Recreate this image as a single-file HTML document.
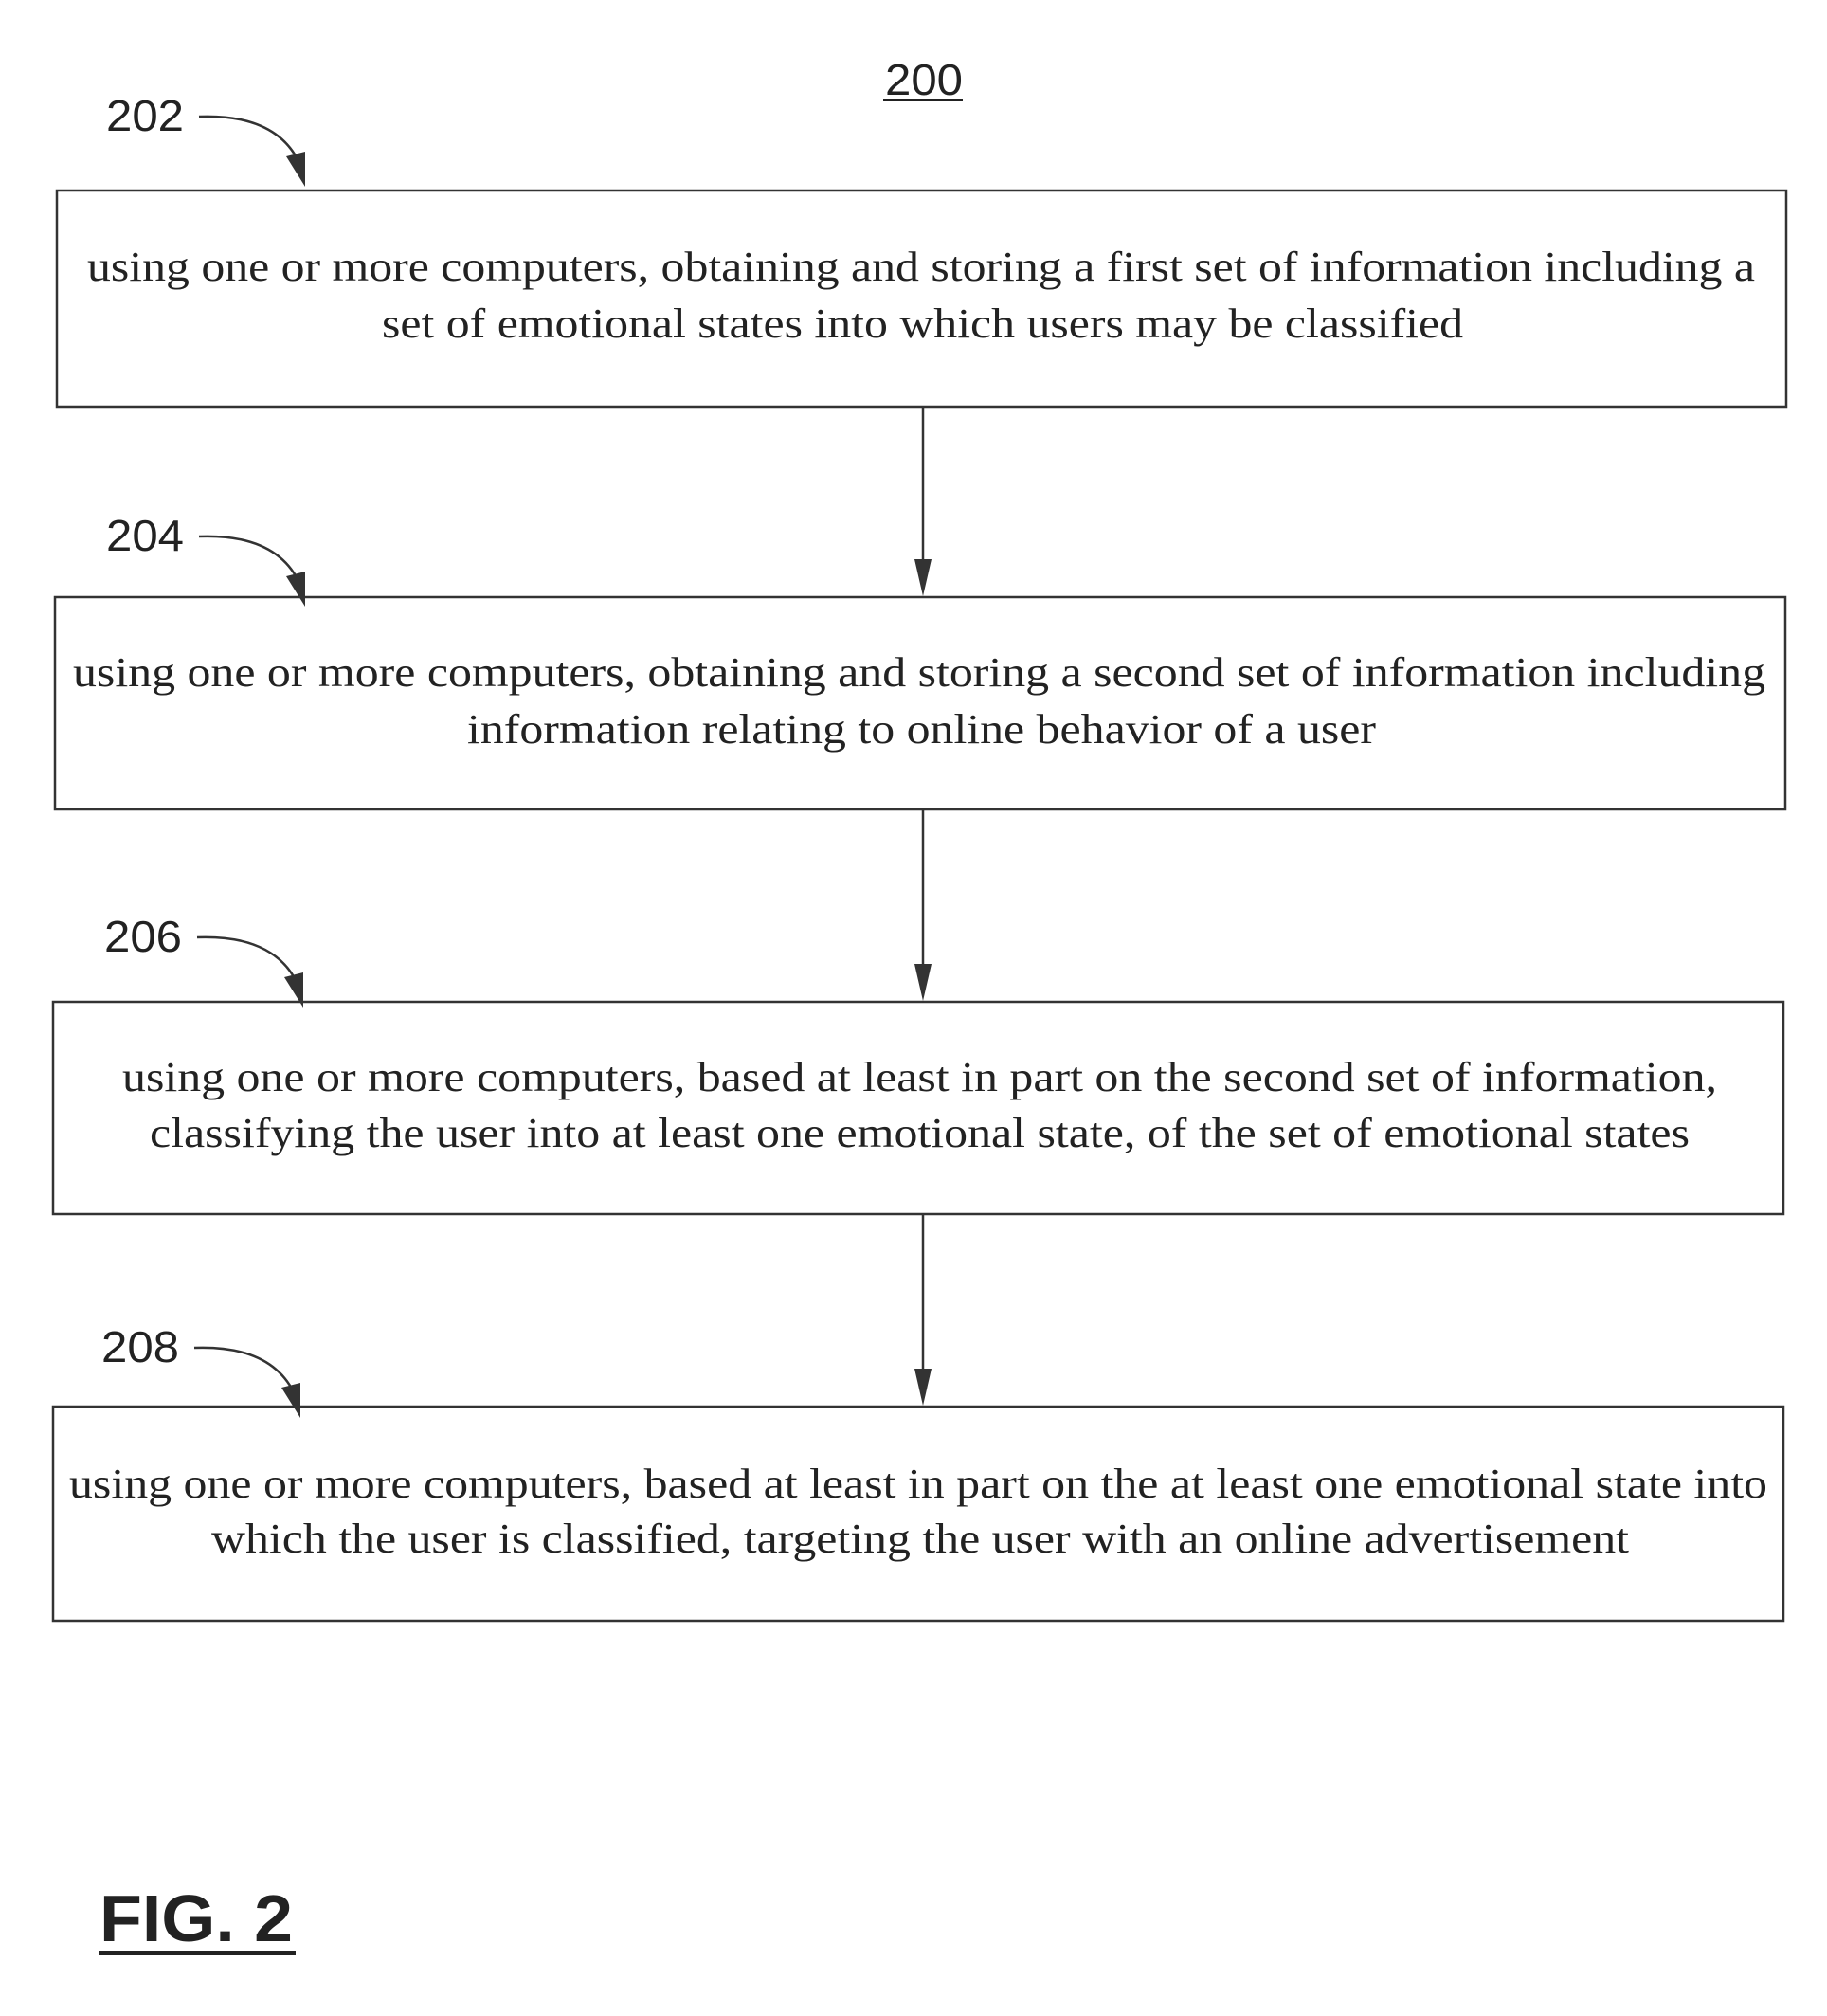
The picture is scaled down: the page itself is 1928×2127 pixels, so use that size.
<!DOCTYPE html>
<html><head><meta charset="utf-8"><style>html,body{margin:0;padding:0;background:#fff}</style></head>
<body>
<svg width="1928" height="2122" viewBox="0 0 1928 2122" xmlns="http://www.w3.org/2000/svg">
<g fill="none" stroke="#333" stroke-width="2.5">
<rect x="60" y="201" width="1825" height="228"/>
<rect x="58" y="630" width="1826" height="224"/>
<rect x="56" y="1057" width="1826" height="224"/>
<rect x="56" y="1484" width="1826" height="226"/>
<line x1="974" y1="429" x2="974" y2="600"/>
<line x1="974" y1="854" x2="974" y2="1027"/>
<line x1="974" y1="1281" x2="974" y2="1454"/>
<path d="M210 123 Q290 120 315 170"/>
<path d="M210 566 Q290 563 315 613"/>
<path d="M208 989 Q288 986 313 1036"/>
<path d="M205 1422 Q285 1419 310 1469"/>
</g>
<g fill="#333">
<polygon points="965,590 983,590 974,629"/>
<polygon points="965,1017 983,1017 974,1056"/>
<polygon points="965,1444 983,1444 974,1483"/>
<polygon points="302,165 322,160 322,197"/>
<polygon points="302,608 322,603 322,640"/>
<polygon points="300,1031 320,1026 320,1063"/>
<polygon points="297,1464 317,1459 317,1496"/>
</g>
<g font-family="Liberation Sans, sans-serif" font-size="46" fill="#222">
<text x="934" y="100" textLength="82" lengthAdjust="spacingAndGlyphs">200</text>
<text x="112" y="138" textLength="82" lengthAdjust="spacingAndGlyphs">202</text>
<text x="112" y="581" textLength="82" lengthAdjust="spacingAndGlyphs">204</text>
<text x="110" y="1004" textLength="82" lengthAdjust="spacingAndGlyphs">206</text>
<text x="107" y="1437" textLength="82" lengthAdjust="spacingAndGlyphs">208</text>
<text x="105" y="2048" font-weight="bold" font-size="70" textLength="204" lengthAdjust="spacingAndGlyphs">FIG. 2</text>
</g>
<rect x="932" y="104" width="84" height="3" fill="#222"/>
<rect x="105" y="2058" width="207" height="5" fill="#222"/>
<g font-family="Liberation Serif, serif" font-size="44" fill="#222">
<text x="92" y="296" textLength="1760" lengthAdjust="spacingAndGlyphs">using one or more computers, obtaining and storing a first set of information including a</text>
<text x="403" y="356" textLength="1141" lengthAdjust="spacingAndGlyphs">set of emotional states into which users may be classified</text>
<text x="77" y="724" textLength="1786" lengthAdjust="spacingAndGlyphs">using one or more computers, obtaining and storing a second set of information including</text>
<text x="493" y="784" textLength="959" lengthAdjust="spacingAndGlyphs">information relating to online behavior of a user</text>
<text x="129" y="1151" textLength="1683" lengthAdjust="spacingAndGlyphs">using one or more computers, based at least in part on the second set of information,</text>
<text x="158" y="1210" textLength="1625" lengthAdjust="spacingAndGlyphs">classifying the user into at least one emotional state, of the set of emotional states</text>
<text x="73" y="1580" textLength="1792" lengthAdjust="spacingAndGlyphs">using one or more computers, based at least in part on the at least one emotional state into</text>
<text x="223" y="1638" textLength="1496" lengthAdjust="spacingAndGlyphs">which the user is classified, targeting the user with an online advertisement</text>
</g>
</svg>
</body></html>
